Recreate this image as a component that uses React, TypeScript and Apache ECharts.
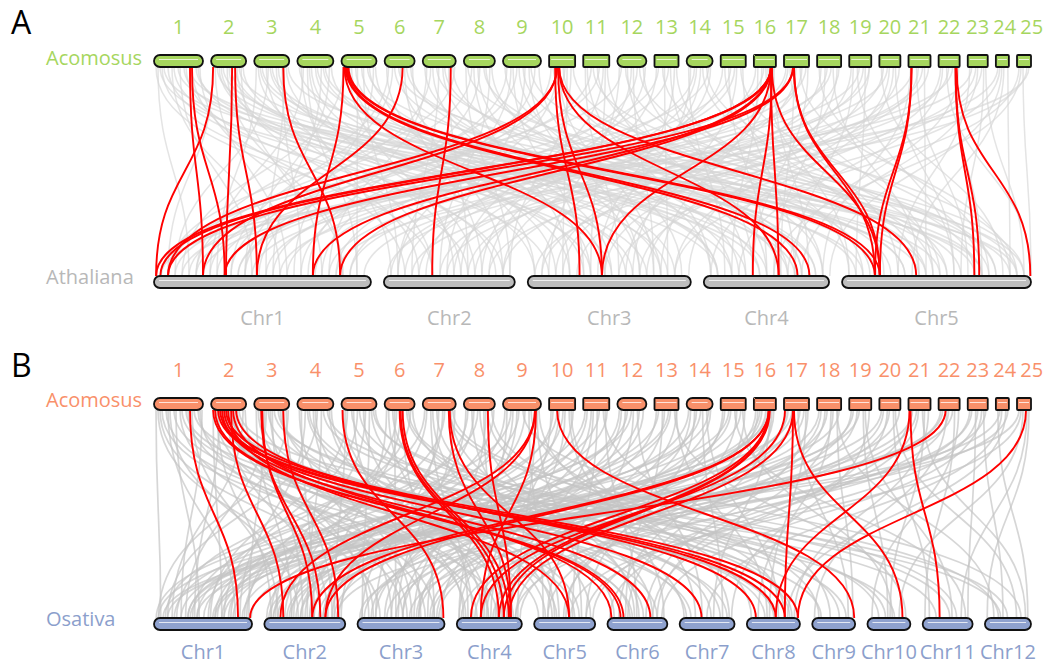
import React, { useEffect, useRef } from "react";
import * as echarts from "echarts";

// ---- genomes -------------------------------------------------------------
// Acomosus chromosome lengths (Mb)
const acoLengths = [24.5, 17.5, 17.5, 18, 17.5, 15, 16.5, 15.5, 19, 13, 13, 14.5, 12, 13, 12.5, 11, 12.5, 12, 11, 10.5, 11, 10.5, 10, 6.5, 7];
const acoNames = acoLengths.map((_, i) => String(i + 1));
// chromosomes drawn with rounded (telomere) ends
const acoRounded = [1, 2, 3, 4, 5, 6, 7, 8, 9, 12, 14];

const athLengths = [31.0, 18.7, 23.3, 17.9, 27.0];
const athNames = ["Chr1", "Chr2", "Chr3", "Chr4", "Chr5"];

const osaLengths = [43.4, 35.8, 38.5, 28.8, 27.0, 26.5, 24.3, 23.5, 19.0, 19.0, 22.1, 20.4];
const osaNames = ["Chr1", "Chr2", "Chr3", "Chr4", "Chr5", "Chr6", "Chr7", "Chr8", "Chr9", "Chr10", "Chr11", "Chr12"];

// ---- collinear links: [acoChr, acoMb, otherChr, otherMb] ------------------
const highlightA = [
  [1, 18, 1, 7], [1, 19, 1, 10.1], [2, 1, 1, 0.3], [2, 10.5, 1, 10.3], [2, 12, 1, 14.7],
  [3, 14.5, 1, 26.6], [5, 1, 1, 22.7], [5, 1.5, 3, 10.6], [5, 2, 4, 13.4], [5, 2.5, 4, 15.1],
  [5, 3, 5, 4.7], [5, 3.5, 5, 5.4], [6, 9, 1, 14.7], [7, 14, 2, 6.9], [10, 3, 3, 7.4],
  [10, 4, 1, 2], [10, 4, 1, 7], [10, 4.5, 3, 10.6], [10, 5, 4, 10.7], [10, 5, 5, 10.6],
  [16, 8.5, 1, 0.3], [16, 8.5, 1, 0.9], [16, 8.5, 1, 22.7], [16, 8.7, 1, 26.6], [16, 8.5, 3, 10.6],
  [16, 8.5, 4, 10.7], [16, 9, 4, 7], [16, 9, 5, 5.4], [17, 4.5, 1, 2], [17, 4.5, 1, 10.1],
  [17, 5, 5, 5.4], [17, 5, 5, 4.7], [21, 1.5, 5, 4.7], [21, 1.5, 5, 5.4], [22, 8.5, 5, 18.9],
  [22, 8.5, 5, 19.6], [22, 9, 5, 26.9],
];

const backgroundA = [
  [1, 2, 1, 5], [1, 4, 2, 12], [1, 7, 3, 3], [1, 9, 1, 18], [1, 12, 5, 20], [1, 15, 4, 8], [1, 19, 2, 3], [1, 22, 3, 17], [1, 23, 1, 27],
  [1, 1, 2, 7], [1, 3, 4, 2], [1, 5, 5, 11], [1, 10, 3, 12], [1, 13, 1, 14], [1, 16, 2, 17], [1, 18, 5, 25], [1, 21, 4, 13],
  [2, 1, 1, 2], [2, 4, 3, 9], [2, 6, 5, 14], [2, 9, 2, 16], [2, 12, 4, 4], [2, 15, 1, 24], [2, 16, 3, 20],
  [2, 2, 1, 19], [2, 3, 5, 3], [2, 5, 3, 15], [2, 8, 1, 27], [2, 10, 4, 9], [2, 13, 2, 5], [2, 14, 5, 19],
  [3, 1, 1, 9], [3, 3, 4, 12], [3, 6, 2, 7], [3, 9, 5, 2], [3, 12, 3, 14], [3, 15, 1, 16], [3, 17, 5, 24],
  [3, 2, 3, 1], [3, 4, 5, 12], [3, 7, 1, 3], [3, 8, 4, 6], [3, 11, 2, 11], [3, 14, 1, 21], [3, 16, 3, 8],
  [4, 2, 2, 1], [4, 5, 1, 29], [4, 7, 3, 6], [4, 10, 5, 9], [4, 13, 4, 16], [4, 16, 1, 13],
  [4, 1, 5, 5], [4, 3, 1, 8], [4, 6, 2, 13], [4, 9, 3, 19], [4, 12, 1, 17], [4, 14, 5, 20], [4, 17, 4, 2],
  [5, 1, 1, 4], [5, 4, 2, 10], [5, 7, 3, 21], [5, 10, 4, 2], [5, 13, 5, 17], [5, 16, 1, 20],
  [5, 2, 5, 9], [5, 5, 3, 4], [5, 8, 1, 29], [5, 11, 2, 2], [5, 14, 4, 8], [5, 17, 3, 11],
  [6, 1, 3, 1], [6, 4, 1, 11], [6, 7, 5, 26], [6, 10, 2, 14], [6, 13, 4, 11],
  [6, 2, 1, 6], [6, 5, 4, 16], [6, 8, 3, 9], [6, 11, 5, 15], [6, 14, 2, 17],
  [7, 2, 1, 25], [7, 5, 3, 12], [7, 8, 2, 4], [7, 11, 5, 7], [7, 15, 4, 14],
  [7, 1, 4, 4], [7, 4, 1, 13], [7, 7, 5, 21], [7, 10, 3, 19], [7, 13, 2, 12], [7, 16, 1, 2],
  [8, 1, 2, 18], [8, 4, 1, 6], [8, 7, 3, 16], [8, 10, 5, 12], [8, 14, 4, 5],
  [8, 2, 5, 25], [8, 5, 3, 6], [8, 8, 1, 22], [8, 11, 4, 12], [8, 13, 2, 8],
  [9, 2, 1, 15], [9, 5, 3, 8], [9, 8, 4, 1], [9, 11, 2, 9], [9, 14, 5, 22], [9, 18, 3, 22],
  [9, 1, 4, 14], [9, 4, 2, 2], [9, 7, 1, 11], [9, 10, 5, 4], [9, 13, 3, 16], [9, 16, 1, 24],
  [10, 1, 1, 21], [10, 4, 2, 2], [10, 7, 4, 17], [10, 9, 3, 5], [10, 12, 5, 15],
  [10, 2, 5, 26], [10, 5, 3, 18], [10, 8, 1, 13], [10, 11, 2, 18],
  [11, 1, 3, 13], [11, 4, 1, 8], [11, 7, 5, 3], [11, 10, 2, 11], [11, 12, 4, 9],
  [11, 2, 4, 1], [11, 5, 5, 22], [11, 8, 1, 2], [11, 11, 3, 9],
  [12, 2, 1, 1], [12, 5, 4, 6], [12, 8, 3, 18], [12, 11, 5, 19], [12, 14, 2, 6],
  [12, 1, 3, 3], [12, 4, 5, 13], [12, 7, 2, 14], [12, 10, 1, 26], [12, 13, 4, 17],
  [13, 1, 2, 15], [13, 4, 5, 11], [13, 7, 1, 17], [13, 10, 3, 10],
  [13, 2, 1, 9], [13, 5, 3, 20], [13, 8, 4, 7], [13, 11, 5, 1],
  [14, 1, 4, 3], [14, 4, 1, 23], [14, 7, 3, 2], [14, 10, 5, 25], [14, 12, 2, 17],
  [14, 2, 3, 11], [14, 5, 2, 10], [14, 8, 5, 14], [14, 11, 1, 5],
  [15, 2, 5, 6], [15, 5, 1, 12], [15, 8, 3, 15], [15, 11, 4, 13],
  [15, 1, 2, 3], [15, 4, 4, 9], [15, 7, 1, 28], [15, 10, 5, 20],
  [16, 1, 2, 5], [16, 4, 3, 19], [16, 6, 5, 1], [16, 9, 1, 3], [16, 10, 4, 15],
  [16, 2, 4, 4], [16, 5, 1, 16], [16, 7, 5, 8], [16, 10, 3, 14],
  [17, 1, 1, 19], [17, 3, 5, 13], [17, 6, 3, 4], [17, 9, 2, 13], [17, 12, 4, 7],
  [17, 2, 2, 1], [17, 5, 4, 11], [17, 8, 5, 24], [17, 11, 1, 12],
  [18, 1, 5, 21], [18, 4, 4, 10], [18, 7, 1, 10], [18, 10, 3, 23],
  [18, 2, 3, 5], [18, 5, 1, 25], [18, 8, 5, 11], [18, 11, 2, 12],
  [19, 1, 3, 11], [19, 4, 5, 16], [19, 7, 2, 8], [19, 10, 1, 28],
  [19, 2, 4, 13], [19, 5, 1, 6], [19, 8, 5, 2], [19, 10, 3, 17],
  [20, 1, 5, 23], [20, 4, 1, 14], [20, 7, 4, 1], [20, 10, 3, 7],
  [20, 2, 2, 17], [20, 5, 3, 21], [20, 8, 5, 16],
  [21, 1, 4, 17], [21, 4, 5, 18], [21, 7, 2, 0.5], [21, 10, 1, 30],
  [21, 2, 1, 18], [21, 5, 3, 2], [21, 8, 5, 12],
  [22, 1, 3, 16], [22, 4, 5, 27], [22, 7, 1, 7], [22, 10, 4, 12],
  [22, 2, 4, 5], [22, 5, 2, 9], [22, 8, 5, 20],
  [23, 1, 5, 8], [23, 4, 2, 15], [23, 7, 3, 1], [23, 9, 5, 26],
  [23, 2, 1, 4], [23, 5, 4, 14], [23, 8, 5, 17],
  [24, 1, 1, 26], [24, 3, 4, 18], [24, 6, 5, 24], [24, 2, 3, 13], [24, 4, 5, 10],
  [25, 1, 3, 21], [25, 3, 5, 27], [25, 6, 1, 1], [25, 2, 4, 10], [25, 5, 2, 4],
];

const highlightB = [
  [1, 18, 1, 37.2], [2, 1, 6, 5.8], [2, 2, 6, 7.1], [2, 3.5, 8, 12.8], [2, 4.5, 8, 16.8],
  [2, 5.5, 6, 19], [2, 6.5, 7, 9.7], [2, 7.5, 8, 22.6], [2, 8.5, 5, 15.5], [2, 10, 2, 8.4],
  [2, 11, 6, 1.8], [2, 12.5, 8, 4], [3, 3.5, 2, 24.8], [3, 4, 2, 21.2], [3, 14.5, 2, 32.7],
  [5, 0.5, 3, 38], [6, 7.5, 4, 18.6], [6, 8, 4, 20.8], [6, 9, 4, 23], [7, 13, 4, 23.9],
  [7, 13.5, 5, 15.5], [8, 12, 4, 23.9], [9, 16, 2, 7.1], [9, 16, 2, 27], [9, 16.5, 4, 10.6],
  [10, 4, 9, 18.6], [16, 7.5, 2, 21.2], [16, 7.5, 2, 27], [16, 7.5, 4, 6.2], [16, 7.5, 4, 18.6],
  [16, 8, 4, 20.8], [17, 0.5, 4, 10.6], [17, 4.5, 4, 23], [17, 4.5, 8, 16.8], [17, 5, 10, 15.5],
  [21, 0.5, 8, 12.8], [21, 1, 11, 7.5], [22, 3.5, 1, 42.5], [25, 4.5, 8, 22.6],
];

const backgroundB = [
  [1, 1, 1, 3], [1, 3, 3, 10], [1, 6, 5, 2], [1, 8, 2, 15], [1, 11, 1, 20], [1, 14, 7, 5], [1, 17, 4, 9], [1, 20, 10, 12], [1, 23, 3, 30],
  [1, 2, 2, 25], [1, 4, 4, 18], [1, 7, 1, 36], [1, 10, 6, 11], [1, 13, 3, 20], [1, 16, 8, 12], [1, 19, 2, 6], [1, 22, 5, 18], [1, 24, 1, 12],
  [2, 1, 1, 30], [2, 3, 2, 3], [2, 5, 6, 10], [2, 7, 4, 25], [2, 9, 9, 4], [2, 11, 3, 22], [2, 13, 8, 8], [2, 16, 1, 8],
  [2, 2, 3, 34], [2, 4, 1, 18], [2, 6, 5, 10], [2, 8, 2, 28], [2, 10, 7, 21], [2, 12, 4, 14], [2, 14, 12, 7], [2, 17, 3, 7],
  [3, 1, 2, 12], [3, 3, 5, 20], [3, 6, 1, 14], [3, 8, 3, 5], [3, 10, 11, 6], [3, 13, 6, 22], [3, 16, 2, 30],
  [3, 2, 4, 4], [3, 5, 1, 42], [3, 7, 7, 3], [3, 9, 2, 17], [3, 12, 9, 15], [3, 14, 5, 5], [3, 17, 1, 2],
  [4, 1, 3, 15], [4, 4, 1, 38], [4, 6, 7, 18], [4, 9, 4, 3], [4, 12, 2, 19], [4, 15, 12, 10], [4, 17, 5, 8],
  [4, 2, 2, 22], [4, 5, 6, 16], [4, 8, 3, 24], [4, 10, 1, 6], [4, 13, 10, 8], [4, 16, 4, 21],
  [5, 1, 4, 14], [5, 3, 1, 25], [5, 6, 3, 28], [5, 9, 8, 19], [5, 12, 2, 5], [5, 15, 6, 3], [5, 17, 10, 5],
  [5, 2, 2, 31], [5, 5, 7, 14], [5, 8, 1, 31], [5, 11, 4, 11], [5, 14, 3, 2], [5, 16, 11, 12],
  [6, 1, 2, 28], [6, 4, 5, 25], [6, 6, 1, 41], [6, 9, 3, 34], [6, 12, 9, 12], [6, 14, 7, 2],
  [6, 2, 4, 7], [6, 5, 3, 17], [6, 8, 2, 13], [6, 11, 8, 20], [6, 13, 1, 24],
  [7, 1, 1, 10], [7, 4, 4, 5], [7, 7, 6, 14], [7, 10, 2, 34], [7, 13, 11, 15], [7, 16, 3, 18],
  [7, 2, 2, 3], [7, 5, 5, 9], [7, 8, 3, 8], [7, 11, 1, 34], [7, 14, 6, 20], [7, 15, 12, 6],
  [8, 1, 3, 2], [8, 4, 5, 11], [8, 7, 1, 17], [8, 10, 4, 20], [8, 12, 8, 2], [8, 15, 2, 9],
  [8, 2, 1, 40], [8, 5, 2, 20], [8, 8, 6, 12], [8, 11, 3, 31], [8, 14, 9, 3],
  [9, 1, 2, 18], [9, 4, 1, 5], [9, 7, 3, 25], [9, 10, 12, 16], [9, 13, 5, 4], [9, 16, 4, 27], [9, 18, 7, 22],
  [9, 2, 4, 1], [9, 5, 3, 15], [9, 8, 1, 27], [9, 11, 2, 30], [9, 14, 8, 17], [9, 17, 5, 21],
  [10, 1, 4, 12], [10, 4, 1, 33], [10, 7, 2, 22], [10, 10, 6, 25], [10, 12, 3, 12],
  [10, 2, 2, 12], [10, 5, 3, 20], [10, 8, 4, 15], [10, 11, 7, 7],
  [11, 1, 1, 28], [11, 4, 3, 37], [11, 7, 5, 17], [11, 10, 9, 8], [11, 12, 2, 1],
  [11, 2, 2, 33], [11, 5, 4, 24], [11, 8, 1, 19], [11, 11, 6, 13],
  [12, 1, 2, 26], [12, 4, 4, 1], [12, 7, 1, 1], [12, 10, 7, 10], [12, 13, 3, 8],
  [12, 2, 3, 27], [12, 5, 1, 9], [12, 8, 5, 6], [12, 11, 2, 16],
  [13, 1, 3, 20], [13, 4, 6, 8], [13, 7, 1, 22], [13, 10, 10, 17], [13, 11, 4, 17],
  [13, 2, 1, 30], [13, 5, 4, 13], [13, 8, 2, 4], [13, 11, 8, 9],
  [14, 1, 2, 14], [14, 4, 5, 23], [14, 7, 1, 35], [14, 10, 8, 14], [14, 12, 3, 26],
  [14, 2, 4, 19], [14, 5, 3, 6], [14, 8, 7, 19], [14, 11, 1, 15],
  [15, 1, 4, 22], [15, 4, 1, 12], [15, 7, 11, 19], [15, 10, 2, 6], [15, 12, 6, 5],
  [15, 2, 3, 35], [15, 5, 2, 26], [15, 8, 5, 14], [15, 11, 10, 11],
  [16, 1, 3, 32], [16, 3, 1, 39], [16, 6, 2, 10], [16, 8, 7, 15], [16, 10, 5, 13],
  [16, 2, 4, 26], [16, 4, 2, 31], [16, 7, 1, 15], [16, 9, 6, 9],
  [17, 1, 4, 8], [17, 4, 1, 2], [17, 7, 9, 16], [17, 10, 3, 3], [17, 12, 6, 17],
  [17, 2, 2, 16], [17, 5, 3, 27], [17, 8, 1, 43], [17, 11, 8, 10],
  [18, 1, 2, 24], [18, 4, 5, 6], [18, 7, 8, 5], [18, 10, 12, 4], [18, 11, 1, 31],
  [18, 2, 4, 11], [18, 5, 3, 17], [18, 8, 6, 22], [18, 10, 9, 18],
  [19, 1, 3, 36], [19, 4, 4, 28], [19, 7, 10, 9], [19, 10, 7, 23],
  [19, 2, 2, 11], [19, 5, 1, 26], [19, 8, 11, 13],
  [20, 1, 1, 16], [20, 4, 6, 20], [20, 7, 11, 3], [20, 10, 2, 20],
  [20, 2, 3, 33], [20, 5, 4, 2], [20, 8, 12, 14],
  [21, 1, 5, 26], [21, 4, 3, 13], [21, 7, 12, 18], [21, 10, 8, 21],
  [21, 2, 2, 4], [21, 5, 6, 1], [21, 8, 10, 10],
  [22, 1, 2, 2], [22, 4, 9, 1], [22, 7, 1, 27], [22, 10, 10, 2],
  [22, 2, 1, 19], [22, 5, 4, 26], [22, 8, 11, 1],
  [23, 1, 4, 16], [23, 4, 11, 20], [23, 7, 6, 24], [23, 9, 3, 1],
  [23, 2, 3, 23], [23, 5, 5, 23], [23, 8, 12, 8],
  [24, 1, 12, 19], [24, 3, 7, 12], [24, 6, 2, 32], [24, 2, 1, 4], [24, 5, 8, 18],
  [25, 1, 1, 6], [25, 3, 10, 14], [25, 6, 12, 1], [25, 2, 5, 16], [25, 5, 11, 17],
];

// ---- layout ------------------------------------------------------------------
const SPAN = 877; // layout units across one track row
const BAR_H = 12;
const HALF = BAR_H / 2;
const FONT = '"Open Sans", "Noto Sans", sans-serif';
const LABEL_MIN_STEP = 27; // minimum spacing between Acomosus number labels

const colors = {
  acoA: "#a6d65e",
  acoB: "#f9906a",
  ath: "#bebebe",
  athText: "#b8b8b8",
  osa: "#8fa2cf",
  osaText: "#8c9fcc",
  red: "#ff0000",
};

type Track = { starts: number[]; scale: number; lengths: number[] };

function makeTrack(lengths: number[], gap: number): Track {
  const total = lengths.reduce((a, b) => a + b, 0);
  const scale = (SPAN - gap * (lengths.length - 1)) / total;
  const starts: number[] = [];
  let x = 0;
  lengths.forEach((len) => {
    starts.push(x);
    x += len * scale + gap;
  });
  return { starts, scale, lengths };
}

const aco = makeTrack(acoLengths, 8.125);
const ath = makeTrack(athLengths, 13);
const osa = makeTrack(osaLengths, 12.3);

const at = (t: Track, chr: number, mb: number) => t.starts[chr - 1] + mb * t.scale;

const linkItems = (links: number[][], other: Track) =>
  links.map(([a, am, b, bm]) => [at(aco, a, am), at(other, b, bm)]);

// [x0, row, x1, rounded]
const barItems = (t: Track, row: number, rounded: (i: number) => boolean) =>
  t.lengths.map((len, i) => [t.starts[i], row, t.starts[i] + len * t.scale, rounded(i) ? 1 : 0]);

// [xCenter, row], nudged right so that neighbouring labels keep a minimum step
const labelItems = (t: Track, row: number, minStep = 0) => {
  let prev = -Infinity;
  return t.lengths.map((len, i) => {
    const c = Math.max(t.starts[i] + (len * t.scale) / 2, prev + minStep);
    prev = c;
    return [c, row];
  });
};

function linkSeries(grid: number, data: number[][], color: string, width: number, opacity: number, z: number) {
  return {
    type: "custom",
    xAxisIndex: grid,
    yAxisIndex: grid,
    silent: true,
    z,
    data,
    renderItem: (_p: any, api: any) => {
      const top = api.coord([api.value(0), 1]);
      const bot = api.coord([api.value(1), 0]);
      const y1 = top[1] + HALF;
      const y2 = bot[1] - HALF;
      const my = (y1 + y2) / 2;
      return {
        type: "bezierCurve",
        shape: { x1: top[0], y1, x2: bot[0], y2, cpx1: top[0], cpy1: my, cpx2: bot[0], cpy2: my },
        style: { stroke: color, lineWidth: width, fill: null, opacity },
      };
    },
  };
}

function barSeries(grid: number, data: number[][], fill: string, z: number) {
  return {
    type: "custom",
    xAxisIndex: grid,
    yAxisIndex: grid,
    silent: true,
    z,
    data,
    renderItem: (_p: any, api: any) => {
      const p0 = api.coord([api.value(0), api.value(1)]);
      const p1 = api.coord([api.value(2), api.value(1)]);
      const round = api.value(3) === 1;
      const w = p1[0] - p0[0];
      const inset = round ? HALF - 1 : 2;
      return {
        type: "group",
        children: [
          {
            type: "rect",
            shape: { x: p0[0], y: p0[1] - HALF, width: w, height: BAR_H, r: round ? HALF : 1 },
            style: { fill, stroke: "#111", lineWidth: 1.8 },
          },
          {
            type: "line",
            shape: { x1: p0[0] + inset, y1: p0[1] - 1.5, x2: p1[0] - inset, y2: p0[1] - 1.5 },
            style: { stroke: "rgba(255,255,255,0.75)", lineWidth: 1 },
          },
        ],
      };
    },
  };
}

function labelSeries(grid: number, data: number[][], names: string[], color: string, dy: number, z: number) {
  return {
    type: "custom",
    xAxisIndex: grid,
    yAxisIndex: grid,
    silent: true,
    z,
    data,
    renderItem: (p: any, api: any) => {
      const c = api.coord([api.value(0), api.value(1)]);
      return {
        type: "text",
        x: c[0],
        y: c[1] + dy,
        style: {
          text: names[p.dataIndex],
          fill: color,
          font: `20px ${FONT}`,
          align: "center",
          verticalAlign: "middle",
        },
      };
    },
  };
}

function buildOption() {
  const isRoundAco = (i: number) => acoRounded.includes(i + 1);
  const grids = [
    { left: 154, width: SPAN, top: 61, height: 221 },
    { left: 154, width: SPAN, top: 404, height: 220 },
  ];
  const axisX = (i: number) => ({ type: "value", gridIndex: i, min: 0, max: SPAN, show: false });
  const axisY = (i: number) => ({ type: "value", gridIndex: i, min: 0, max: 1, show: false });

  const genomeText = (text: string, y: number, fill: string) => ({
    type: "text",
    left: 46,
    top: y - 14,
    style: { text, fill, font: `20px ${FONT}` },
  });

  return {
    animation: false,
    backgroundColor: "#ffffff",
    grid: grids,
    xAxis: [axisX(0), axisX(1)],
    yAxis: [axisY(0), axisY(1)],
    graphic: [
      { type: "text", left: 11, top: 5, style: { text: "A", fill: "#000", font: `32px ${FONT}` } },
      { type: "text", left: 11, top: 348, style: { text: "B", fill: "#000", font: `32px ${FONT}` } },
      genomeText("Acomosus", 61, colors.acoA),
      genomeText("Athaliana", 280, colors.athText),
      genomeText("Acomosus", 403, colors.acoB),
      genomeText("Osativa", 622, colors.osaText),
    ],
    series: [
      linkSeries(0, linkItems(backgroundA, ath), "#d6d6d6", 1.5, 0.65, 1),
      linkSeries(0, linkItems(highlightA, ath), colors.red, 1.9, 1, 2),
      barSeries(0, barItems(aco, 1, isRoundAco), colors.acoA, 3),
      barSeries(0, barItems(ath, 0, () => true), colors.ath, 3),
      labelSeries(0, labelItems(aco, 1, LABEL_MIN_STEP), acoNames, colors.acoA, -35, 4),
      labelSeries(0, labelItems(ath, 0), athNames, colors.athText, 35, 4),

      linkSeries(1, linkItems(backgroundB, osa), "#c4c4c4", 1.7, 0.7, 1),
      linkSeries(1, linkItems(highlightB, osa), colors.red, 1.9, 1, 2),
      barSeries(1, barItems(aco, 1, isRoundAco), colors.acoB, 3),
      barSeries(1, barItems(osa, 0, () => true), colors.osa, 3),
      labelSeries(1, labelItems(aco, 1, LABEL_MIN_STEP), acoNames, colors.acoB, -35, 4),
      labelSeries(1, labelItems(osa, 0), osaNames, colors.osaText, 27, 4),
    ],
  };
}

export default function App() {
  const ref = useRef<HTMLDivElement>(null);
  useEffect(() => {
    if (!ref.current) return;
    const chart = echarts.init(ref.current, null, { renderer: "svg" });
    chart.setOption(buildOption() as any);
    return () => chart.dispose();
  }, []);
  return (
    <div
      ref={ref}
      style={{ position: "fixed", left: 0, top: 0, width: 1058, height: 664, background: "#fff" }}
    />
  );
}
